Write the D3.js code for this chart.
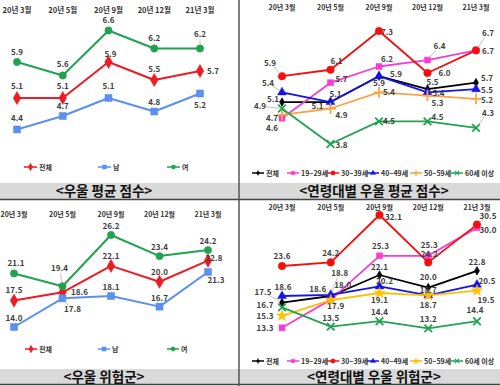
<!DOCTYPE html>
<html><head><meta charset="utf-8">
<script src="https://cdn.jsdelivr.net/npm/d3@7"></script>
<style>
body{margin:0;background:#fff;}
svg{display:block;font-family:"Noto Sans CJK KR","Noto Sans",sans-serif;}
</style></head><body>
<svg id="c" width="500" height="386"></svg>
<script>
// ---------- DATA ----------
const months = ["20년 3월","20년 5월","20년 9월","20년 12월","21년 3월"];
const sexSeries = ["전체","남","여"];
const ageSeries = ["전체","19~29세","30~39세","40~49세","50~59세","60세 이상"];
const panelTitles = ["<우울 평균 점수>","<연령대별 우울 평균 점수>","<우울 위험군>","<연령대별 우울 위험군>"];

const avgAll    = [5.1, 5.1, 5.9, 5.5, 5.7];
const avgMale   = [4.4, 4.7, 5.1, 4.8, 5.2];
const avgFemale = [5.9, 5.6, 6.6, 6.2, 6.2];

const ageAvgAll = [5.1, 5.1, 5.9, 5.5, 5.7];
const ageAvg20s = [4.6, 5.7, 6.2, 6.4, 6.7];
const ageAvg30s = [5.9, 6.1, 7.3, 6.0, 6.7];
const ageAvg40s = [5.4, 5.1, 5.9, 5.4, 5.5];
const ageAvg50s = [4.7, 4.9, 5.4, 5.3, 5.2];
const ageAvg60s = [4.9, 3.8, 4.5, 4.5, 4.3];

const riskAll    = [17.5, 18.6, 22.1, 20.0, 22.8];
const riskMale   = [14.0, 17.8, 18.1, 16.7, 21.3];
const riskFemale = [21.1, 19.4, 26.2, 23.4, 24.2];

const ageRiskAll = [17.5, 18.6, 22.1, 20.0, 22.8];
const ageRisk20s = [13.3, 18.0, 25.3, 25.3, 30.0];
const ageRisk30s = [23.6, 24.2, 32.1, 24.2, 30.5];
const ageRisk40s = [18.6, 18.8, 20.2, 18.7, 20.5];
const ageRisk50s = [15.3, 17.9, 19.1, 18.7, 19.5];
const ageRisk60s = [16.7, 13.5, 14.4, 13.2, 14.4];

// ---------- STYLE / LAYOUT ----------
const svg = d3.select("#c");
const RED="#ec1c24", BLUE="#5b8ff0", GREEN="#1fa34f";
const A_BLACK="#000000", A_MAG="#f53fd2", A_RED="#f40f0f", A_BLUE="#1414e6", A_ORG="#f7a546", A_YEL="#ffc000", A_GRN="#22a352";

// background frame
svg.append("rect").attr("x",0).attr("y",183).attr("width",500).attr("height",16).attr("fill","#d9d9d9");
svg.append("rect").attr("x",0).attr("y",369).attr("width",500).attr("height",15).attr("fill","#d9d9d9");
svg.append("line").attr("x1",0).attr("x2",500).attr("y1",199.5).attr("y2",199.5).attr("stroke","#444").attr("stroke-width",1.5);
svg.append("line").attr("x1",0).attr("x2",500).attr("y1",384.5).attr("y2",384.5).attr("stroke","#444").attr("stroke-width",1.5);
svg.append("line").attr("x1",239).attr("x2",239).attr("y1",0).attr("y2",386).attr("stroke","#555").attr("stroke-width",1.5);

const titlePos = [[104,191],[374,191],[104,377],[374,377]];
panelTitles.forEach((t,i)=>{
  svg.append("text").attr("x",titlePos[i][0]).attr("y",titlePos[i][1]).attr("dy","0.36em")
    .attr("text-anchor","middle").attr("font-size",13.5).attr("font-weight","bold").attr("fill","#111").text(t);
});

const panels = [
  { xRange:[17,200], yDomain:[4.4,6.6], yRange:[129.5,30.5], catY:10, catSize:7.5, lw:2,
    legendY:167, legendX:[24,98,167], legendLen:13, names:sexSeries,
    series:[
      {v:avgAll, c:RED, sym:d3.symbolDiamond, size:50,
       lab:[[0,-12],[0,-12],[2,-8],[0,-11],[13,0]]},
      {v:avgMale, c:BLUE, sym:d3.symbolSquare, size:50,
       lab:[[0,-11],[0,-10],[0,-12],[0,-9],[0,12]]},
      {v:avgFemale, c:GREEN, sym:d3.symbolCircle, size:42,
       lab:[[0,-10],[0,-11],[0,-10],[0,-10],[0,-14,1]]}
    ]},
  { xRange:[282,476], yDomain:[3.8,7.3], yRange:[144,31], catY:7, catSize:7, lw:1.8,
    legendY:173, legendX:[252,287,327,367,410,451], legendLen:12, names:ageSeries,
    series:[
      {v:ageAvgAll, c:A_BLACK, sym:d3.symbolDiamond, size:22,
       lab:[[-9,-3],[5,-8],[0,7],[5,-7],[11,-5]]},
      {v:ageAvg20s, c:A_MAG, sym:d3.symbolSquare, size:36,
       lab:[[-10,10],[11,-4],[8,-7],[12,-14,1],[12,1]]},
      {v:ageAvg30s, c:A_RED, sym:d3.symbolCircle, size:45,
       lab:[[-12,-13,1],[6,-9],[8,1],[17,0],[12,-17,1]]},
      {v:ageAvg40s, c:A_BLUE, sym:d3.symbolTriangle, size:34,
       lab:[[-14,-9,1],[-13,4],[17,-2],[11,1],[11,1]]},
      {v:ageAvg50s, c:A_ORG, sym:d3.symbolPlus, size:40, stroke:true,
       lab:[[-10,3,1],[11,7],[10,0],[10,8],[11,1]]},
      {v:ageAvg60s, c:A_GRN, sym:d3.symbolTimes, size:40, stroke:true,
       lab:[[-22,-2,1],[11,1],[10,0],[10,-4],[12,-15,1]]}
    ]},
  { xRange:[14,208], yDomain:[14.0,26.2], yRange:[327,235], catY:214, catSize:7, lw:2,
    legendY:349, legendX:[25,98,167], legendLen:12, names:sexSeries,
    series:[
      {v:riskAll, c:RED, sym:d3.symbolDiamond, size:50,
       lab:[[0,-10],[17,0],[0,-10],[0,-10],[6,-3]]},
      {v:riskMale, c:BLUE, sym:d3.symbolSquare, size:50,
       lab:[[0,-9],[10,11,1],[0,-9],[0,-9],[8,8]]},
      {v:riskFemale, c:GREEN, sym:d3.symbolCircle, size:42,
       lab:[[2,-10],[-3,-18,1],[0,-9],[0,-9],[0,-9]]}
    ]},
  { xRange:[282,477], yDomain:[13.2,32.1], yRange:[328.4,215], catY:207, catSize:7, lw:1.8,
    legendY:361, legendX:[252,287,327,367,410,451], legendLen:12, names:ageSeries,
    series:[
      {v:ageRiskAll, c:A_BLACK, sym:d3.symbolDiamond, size:22,
       lab:[[-19,-10,1],[-13,-7,1],[0,-8],[0,-10],[0,-9]]},
      {v:ageRisk20s, c:A_MAG, sym:d3.symbolSquare, size:36,
       lab:[[-17,0],[12,-14],[1,-10],[1,-11],[11,3]]},
      {v:ageRisk30s, c:A_RED, sym:d3.symbolCircle, size:45,
       lab:[[0,-10],[0,-9],[14,2],[1,-8],[11,-8,1]]},
      {v:ageRisk40s, c:A_BLUE, sym:d3.symbolTriangle, size:34,
       lab:[[1,-9],[9,-22,1],[5,-5],[0,-5],[10,-3]]},
      {v:ageRisk50s, c:A_YEL, sym:d3.symbolStar, size:40,
       lab:[[-17,0],[5,6],[0,7],[0,10],[9,10]]},
      {v:ageRisk60s, c:A_GRN, sym:d3.symbolTimes, size:40, stroke:true,
       lab:[[-17,-2],[0,-8],[0,-9],[0,-9],[-2,-11]]}
    ]}
];

function drawPanel(p){
  const g = svg.append("g");
  const x = d3.scalePoint().domain(months).range(p.xRange);
  const y = d3.scaleLinear().domain(p.yDomain).range(p.yRange);
  // category labels (top axis)
  g.selectAll(".cat").data(months).enter().append("text")
    .attr("x",d=>x(d)).attr("y",p.catY).attr("dy","0.36em").attr("text-anchor","middle")
    .attr("font-size",p.catSize).attr("font-weight","bold").attr("fill","#333").text(d=>d);
  const line = d3.line().x((d,i)=>x(months[i])).y(d=>y(d));
  p.series.forEach(s=>{
    g.append("path").datum(s.v).attr("d",line).attr("fill","none")
      .attr("stroke",s.c).attr("stroke-width",p.lw).attr("stroke-linejoin","round");
  });
  p.series.forEach(s=>{
    const sym = d3.symbol().type(s.sym).size(s.size);
    g.selectAll(null).data(s.v).enter().append("path")
      .attr("transform",(d,i)=>`translate(${x(months[i])},${y(d)})`)
      .attr("d",sym)
      .attr("fill",s.stroke?"none":s.c).attr("stroke",s.c).attr("stroke-width",s.stroke?1.8:0.5);
  });
  p.series.forEach(s=>{
    s.v.forEach((d,i)=>{
      const px=x(months[i]), py=y(d);
      const o=s.lab[i]; const lx=px+o[0], ly=py+o[1];
      if(o[2]){
        const dx=px-lx, dy=py-ly, L=Math.hypot(dx,dy);
        const ux=dx/L, uy=dy/L;
        g.append("line").attr("x1",lx+ux*6).attr("y1",ly+uy*5).attr("x2",px-ux*3).attr("y2",py-uy*3)
          .attr("stroke","#a6a6a6").attr("stroke-width",0.7);
      }
      g.append("text").attr("x",lx).attr("y",ly).attr("dy","0.36em").attr("text-anchor","middle")
        .attr("font-size",8).attr("font-weight","bold").attr("fill","#404040").text(d.toFixed(1));
    });
  });
  // legend
  p.series.forEach((s,k)=>{
    const lx=p.legendX[k], ly=p.legendY;
    g.append("line").attr("x1",lx).attr("x2",lx+p.legendLen).attr("y1",ly).attr("y2",ly)
      .attr("stroke",s.c).attr("stroke-width",1.5);
    g.append("path").attr("transform",`translate(${lx+p.legendLen/2},${ly})`)
      .attr("d",d3.symbol().type(s.sym).size(s.size*0.35))
      .attr("fill",s.stroke?"none":s.c).attr("stroke",s.c).attr("stroke-width",s.stroke?1.2:0.3);
    g.append("text").attr("x",lx+p.legendLen+2).attr("y",ly).attr("dy","0.36em")
      .attr("font-size",7).attr("font-weight","bold").attr("fill","#333").text(p.names[k]);
  });
}
panels.forEach(drawPanel);
</script>
</body></html>
